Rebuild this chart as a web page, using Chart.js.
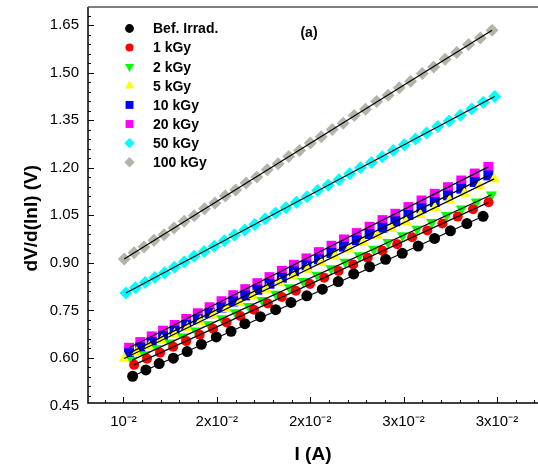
<!DOCTYPE html>
<html>
<head>
<meta charset="utf-8">
<script src="https://cdn.jsdelivr.net/npm/chart.js@4.4.0/dist/chart.umd.min.js"></script>
<style>
html, body { margin: 0; padding: 0; overflow: hidden; background: #fff; }
#caja { width: 545px; height: 469px; }
</style>
</head>
<body>
<div id="caja"><canvas id="grafica"></canvas></div>
<script>
// Nombres de las series (dosis)
const nombres = ['Bef. Irrad.', '1 kGy', '2 kGy', '5 kGy', '10 kGy', '20 kGy', '50 kGy', '100 kGy'];

// Corriente I (A) y dV/d(lnI) (V) de cada serie
const iBef = [0.01049, 0.01120, 0.01191, 0.01267, 0.01341, 0.01417, 0.01497, 0.01576, 0.01650, 0.01733, 0.01815, 0.01897,
              0.01982, 0.02065, 0.02150, 0.02233, 0.02318, 0.02404, 0.02493, 0.02578, 0.02666, 0.02751, 0.02839, 0.02926];
const vBef = [0.542, 0.562, 0.582, 0.599, 0.620, 0.643, 0.666, 0.684, 0.708, 0.730, 0.752, 0.775,
              0.796, 0.817, 0.841, 0.865, 0.888, 0.911, 0.930, 0.953, 0.977, 1.001, 1.024, 1.047];

const i1 = [0.01057, 0.01126, 0.01196, 0.01266, 0.01336, 0.01408, 0.01480, 0.01552, 0.01625, 0.01699, 0.01773, 0.01848, 0.01923,
            0.01999, 0.02075, 0.02152, 0.02230, 0.02308, 0.02387, 0.02466, 0.02546, 0.02627, 0.02708, 0.02790, 0.02872, 0.02955];
const v1 = [0.578, 0.597, 0.616, 0.635, 0.653, 0.673, 0.692, 0.712, 0.732, 0.752, 0.772, 0.792, 0.812,
            0.833, 0.853, 0.874, 0.895, 0.916, 0.938, 0.959, 0.981, 1.002, 1.024, 1.046, 1.069, 1.091];

const i2 = [0.01046, 0.01113, 0.01181, 0.01250, 0.01318, 0.01388, 0.01458, 0.01528, 0.01600, 0.01671, 0.01743, 0.01816, 0.01889, 0.01963,
            0.02037, 0.02112, 0.02187, 0.02263, 0.02340, 0.02417, 0.02494, 0.02572, 0.02651, 0.02730, 0.02810, 0.02890, 0.02971];
const v2 = [0.593, 0.611, 0.630, 0.648, 0.667, 0.686, 0.705, 0.724, 0.743, 0.763, 0.782, 0.802, 0.822, 0.842,
            0.862, 0.882, 0.903, 0.923, 0.944, 0.965, 0.986, 1.007, 1.028, 1.050, 1.071, 1.093, 1.115];

const i5 = [0.01004, 0.01071, 0.01138, 0.01206, 0.01274, 0.01343, 0.01412, 0.01482, 0.01552, 0.01623, 0.01694, 0.01766, 0.01838, 0.01911,
            0.01985, 0.02058, 0.02133, 0.02208, 0.02283, 0.02359, 0.02436, 0.02513, 0.02590, 0.02668, 0.02746, 0.02826, 0.02905, 0.02985];
const v5 = [0.598, 0.617, 0.636, 0.656, 0.675, 0.695, 0.715, 0.735, 0.755, 0.775, 0.796, 0.816, 0.837, 0.858,
            0.879, 0.900, 0.921, 0.943, 0.964, 0.986, 1.008, 1.030, 1.052, 1.074, 1.097, 1.119, 1.142, 1.165];

// 10 kGy y 20 kGy comparten corrientes
const i10 = [0.01030, 0.01090, 0.01151, 0.01212, 0.01274, 0.01336, 0.01398, 0.01461, 0.01525, 0.01588, 0.01652, 0.01717, 0.01782, 0.01848, 0.01913,
             0.01980, 0.02047, 0.02114, 0.02181, 0.02249, 0.02318, 0.02387, 0.02456, 0.02526, 0.02596, 0.02667, 0.02738, 0.02809, 0.02881, 0.02954];
const v10 = [0.615, 0.633, 0.650, 0.668, 0.686, 0.704, 0.722, 0.741, 0.759, 0.778, 0.797, 0.815, 0.834, 0.853, 0.873,
             0.892, 0.911, 0.931, 0.951, 0.971, 0.991, 1.011, 1.031, 1.051, 1.072, 1.092, 1.113, 1.134, 1.155, 1.176];
const i20 = i10;
const v20 = [0.632, 0.650, 0.668, 0.686, 0.704, 0.723, 0.741, 0.760, 0.779, 0.798, 0.817, 0.836, 0.855, 0.875, 0.894,
             0.914, 0.934, 0.954, 0.974, 0.994, 1.014, 1.035, 1.055, 1.076, 1.097, 1.118, 1.139, 1.160, 1.182, 1.203];

const i50 = [0.01013, 0.01064, 0.01116, 0.01168, 0.01220, 0.01273, 0.01325, 0.01378, 0.01432, 0.01486, 0.01540, 0.01594,
             0.01649, 0.01703, 0.01759, 0.01814, 0.01870, 0.01926, 0.01983, 0.02039, 0.02096, 0.02154, 0.02211, 0.02269,
             0.02328, 0.02386, 0.02445, 0.02504, 0.02564, 0.02623, 0.02683, 0.02744, 0.02804, 0.02865, 0.02927, 0.02988];
const v50 = [0.805, 0.821, 0.838, 0.854, 0.869, 0.886, 0.903, 0.921, 0.936, 0.952, 0.970, 0.988,
             1.004, 1.021, 1.039, 1.057, 1.074, 1.091, 1.109, 1.128, 1.145, 1.162, 1.181, 1.200,
             1.217, 1.235, 1.255, 1.273, 1.291, 1.310, 1.330, 1.348, 1.366, 1.386, 1.407, 1.425];

const i100 = [0.01004, 0.01057, 0.01110, 0.01163, 0.01217, 0.01271, 0.01325, 0.01379, 0.01434, 0.01490, 0.01545, 0.01601,
              0.01657, 0.01714, 0.01770, 0.01828, 0.01885, 0.01943, 0.02001, 0.02059, 0.02118, 0.02177, 0.02236, 0.02296,
              0.02356, 0.02417, 0.02477, 0.02538, 0.02600, 0.02661, 0.02723, 0.02785, 0.02848, 0.02911, 0.02974];
const v100 = [0.912, 0.932, 0.950, 0.971, 0.989, 1.010, 1.031, 1.049, 1.071, 1.089, 1.111, 1.130,
              1.152, 1.171, 1.194, 1.213, 1.236, 1.255, 1.278, 1.298, 1.321, 1.341, 1.365, 1.385,
              1.409, 1.429, 1.453, 1.473, 1.498, 1.518, 1.543, 1.564, 1.589, 1.610, 1.634];

// Marcas y etiquetas de los ejes (como salen en la figura)
const ticksX = [0.01, 0.015, 0.02, 0.025, 0.03];
const etiquetasX = ['10⁻²', '2x10⁻²', '2x10⁻²', '3x10⁻²', '3x10⁻²'];
const ticksY = [0.45, 0.60, 0.75, 0.90, 1.05, 1.20, 1.35, 1.50, 1.65];

const corrientes = [iBef, i1, i2, i5, i10, i20, i50, i100];
const voltajes = [vBef, v1, v2, v5, v10, v20, v50, v100];
const colores = ['#000000', '#ff0000', '#00ff00', '#ffff00', '#0000ff', '#ff00ff', '#00ffff', '#b4b4aa'];
const estilos = ['circle', 'circle', 'triangle', 'triangle', 'rect', 'rect', 'rectRot', 'rectRot'];
const giros = [0, 0, 180, 0, 0, 0, 0, 0];
const radios = [5.5, 5, 6.5, 6.5, 7, 7, 6.5, 6.5];

const conjuntos = [];
// Rectas de ajuste (encima de los puntos)
for (let s = 0; s < 8; s++) {
	const I = corrientes[s], V = voltajes[s];
	conjuntos.push({
		type: 'line',
		data: [{x: I[0], y: V[0]}, {x: I[I.length - 1], y: V[V.length - 1]}],
		borderColor: '#000',
		borderWidth: 1.2,
		pointRadius: 0,
		order: -1
	});
}
// Puntos de cada serie
for (let s = 0; s < 8; s++) {
	conjuntos.push({
		label: nombres[s],
		data: corrientes[s].map((x, k) => ({x: x, y: voltajes[s][k]})),
		showLine: false,
		pointStyle: estilos[s],
		rotation: giros[s],
		pointRadius: radios[s],
		pointBackgroundColor: colores[s],
		pointBorderWidth: 0,
		order: 0
	});
}

// Plugin para marcas hacia dentro, marco y leyenda
const marcas = {
	id: 'marcas',
	afterDraw(chart) {
		const ctx = chart.ctx, a = chart.chartArea;
		const sx = chart.scales.x, sy = chart.scales.y;
		ctx.save();
		ctx.strokeStyle = '#000';
		ctx.lineWidth = 1.5;
		ctx.beginPath();
		ctx.moveTo(a.left, a.top);
		ctx.lineTo(a.left, a.bottom);
		ctx.lineTo(a.right, a.bottom);
		ctx.stroke();
		ctx.strokeStyle = '#555';
		ctx.lineWidth = 1.5;
		ctx.beginPath();
		ctx.moveTo(a.left, a.top);
		ctx.lineTo(a.right, a.top);
		ctx.stroke();
		ctx.strokeStyle = '#000';
		ctx.lineWidth = 1;
		ctx.beginPath();
		for (let k = 9; k <= 32; k++) {
			const px = Math.round(sx.getPixelForValue(k / 1000)) + 0.5;
			const largo = k % 5 === 0 ? 6 : 3;
			ctx.moveTo(px, a.bottom);
			ctx.lineTo(px, a.bottom - largo);
		}
		for (let k = 16; k <= 56; k++) {
			const py = Math.round(sy.getPixelForValue(k * 0.03)) + 0.5;
			const largo = k % 5 === 0 ? 6 : 3;
			ctx.moveTo(a.left, py);
			ctx.lineTo(a.left + largo, py);
		}
		ctx.stroke();

		// Leyenda
		ctx.font = 'bold 14px Arial, "Liberation Sans", sans-serif';
		ctx.textBaseline = 'middle';
		ctx.textAlign = 'left';
		for (let s = 0; s < 8; s++) {
			const y = 28.5 + s * 19.1;
			ctx.fillStyle = colores[s];
			Chart.helpers.drawPoint(ctx, {pointStyle: estilos[s], rotation: giros[s], radius: radios[s] * 0.8, borderWidth: 0}, 129.5, y);
			ctx.fillStyle = '#000';
			ctx.fillText(nombres[s], 153, y + 1);
		}
		ctx.textAlign = 'center';
		ctx.fillText('(a)', 309, 33);
		ctx.restore();
	}
};

const ctx = document.getElementById('grafica');
const grafica = new Chart(ctx, {
	type: 'scatter',
	data: {datasets: conjuntos},
	options: {
		responsive: true,
		maintainAspectRatio: false,
		animation: false,
		layout: {padding: {top: 5, right: 2, left: 0, bottom: 0}},
		plugins: {legend: {display: false}, tooltip: {enabled: false}},
		scales: {
			x: {
				type: 'linear',
				min: 0.0081,
				max: 0.0322,
				afterBuildTicks: (escala) => { escala.ticks = ticksX.map(v => ({value: v})); },
				afterFit: (escala) => { escala.height = 66; escala.paddingLeft = 0; escala.paddingRight = 0; },
				grid: {display: false, drawTicks: false},
				border: {display: false},
				ticks: {
					autoSkip: false,
					maxRotation: 0,
					padding: 10,
					color: '#000',
					font: {family: 'Arial, "Liberation Sans", sans-serif', size: 15},
					callback: (v, k) => etiquetasX[k]
				},
				title: {
					display: true,
					text: 'I (A)',
					color: '#000',
					font: {family: 'Arial, "Liberation Sans", sans-serif', size: 19, weight: 'bold'},
					padding: {top: 0, bottom: 3}
				}
			},
			y: {
				type: 'linear',
				min: 0.4576,
				max: 1.7076,
				afterBuildTicks: (escala) => { escala.ticks = ticksY.map(v => ({value: v})); },
				afterFit: (escala) => { escala.width = 88; escala.paddingTop = 0; escala.paddingBottom = 0; },
				grid: {display: false, drawTicks: false},
				border: {display: false},
				ticks: {
					autoSkip: false,
					padding: 9,
					color: '#000',
					font: {family: 'Arial, "Liberation Sans", sans-serif', size: 15},
					callback: (v) => v.toFixed(2)
				},
				title: {
					display: true,
					text: 'dV/d(lnI) (V)     ',
					color: '#000',
					font: {family: 'Arial, "Liberation Sans", sans-serif', size: 19, weight: 'bold'},
					padding: {top: 20, bottom: 0}
				}
			}
		}
	},
	plugins: [marcas]
});
</script>
</body>
</html>
